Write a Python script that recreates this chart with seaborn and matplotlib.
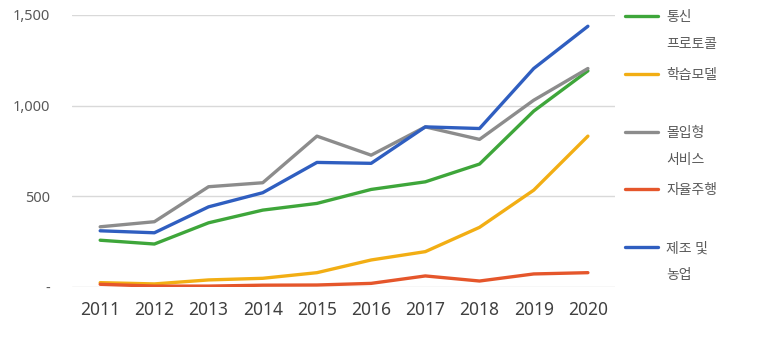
import matplotlib
matplotlib.use("Agg")
import matplotlib.pyplot as plt
import seaborn as sns
import pandas as pd
from matplotlib.ticker import FuncFormatter
from matplotlib.lines import Line2D

years = [2011, 2012, 2013, 2014, 2015, 2016, 2017, 2018, 2019, 2020]
comm_protocol = [258, 237, 354, 424, 461, 538, 580, 678, 970, 1192]
learning_model = [24, 17, 39, 48, 79, 149, 195, 329, 534, 832]
immersive_service = [332, 360, 553, 575, 832, 727, 883, 814, 1030, 1205]
autonomous = [15, 5, 5, 10, 11, 20, 61, 33, 72, 79]
manufacturing = [310, 299, 442, 520, 687, 682, 883, 874, 1205, 1438]

series_names = ["통신 프로토콜", "학습모델", "몰입형 서비스", "자율주행", "제조 및 농업"]
first_lines = ["통신", "학습모델", "몰입형", "자율주행", "제조 및"]
second_lines = ["프로토콜", "", "서비스", "", "농업"]
colors = ["#3ea63a", "#f2ae14", "#8c8c8c", "#e5562b", "#2f5ec0"]
y_ticks = [0, 500, 1000, 1500]

sns.set_theme(style="white")
plt.rcParams["font.family"] = ["Noto Sans", "Noto Sans CJK KR", "DejaVu Sans"]

df = pd.DataFrame({"year": years * 5,
                   "value": comm_protocol + learning_model + immersive_service + autonomous + manufacturing,
                   "series": sum([[n] * len(years) for n in series_names], [])})

fig = plt.figure(figsize=(7.57, 3.42), dpi=100)
ax = fig.add_axes([72 / 757, 1 - 287 / 342, (615 - 72) / 757, (287 - 15) / 342])

sns.lineplot(data=df, x="year", y="value", hue="series", hue_order=series_names,
             palette=colors, linewidth=2.4, ax=ax, legend=False)

ax.set_xlim(2010.48, 2020.5)
ax.set_ylim(0, 1500)
ax.set_xticks(years)
ax.set_yticks(y_ticks)
ax.yaxis.set_major_formatter(FuncFormatter(lambda v, p: "-" if v == 0 else f"{int(v):,}"))
ax.grid(axis="y", color="#d9d9d9", linewidth=1)
ax.set_axisbelow(True)
for s in ax.spines.values():
    s.set_visible(False)
ax.set_xlabel("")
ax.set_ylabel("")
ax.tick_params(axis="x", labelsize=12.5, colors="#404040", pad=10, length=0)
ax.tick_params(axis="y", labelsize=10.5, colors="#595959", pad=16, length=0)

# legend
handles = [Line2D([0], [0], color=c, linewidth=2.4) for c in colors]
leg = fig.legend(handles, first_lines, loc="upper left", bbox_to_anchor=(625 / 757, 1 - 10 / 342),
                 frameon=False, fontsize=10, labelspacing=3.08, handlelength=2.4,
                 handletextpad=0.55, borderaxespad=0, borderpad=0)
for t in leg.get_texts():
    t.set_color("#595959")

fig.canvas.draw()
r = fig.canvas.get_renderer()
for t, s in zip(leg.get_texts(), second_lines):
    if s:
        bb = t.get_window_extent(r)
        fig.text(bb.x0 / 757, (bb.y0 - 27) / 342, s, fontsize=10, color="#595959",
                 ha="left", va="bottom")

fig.savefig("out.png", dpi=100)
